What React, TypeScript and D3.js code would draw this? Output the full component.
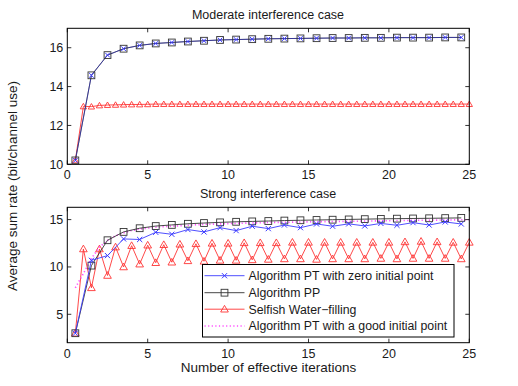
import React from "react";
import * as d3 from "d3";

const W = 518;
const H = 386;

// ---------- data ----------
const xTicks = [0, 5, 10, 15, 20, 25];
const topYTicks = [10, 12, 14, 16];
const botYTicks = [5, 10, 15];

const xHalf = [0.5, 1.5, 2.5, 3.5, 4.5, 5.5, 6.5, 7.5, 8.5, 9.5, 10.5, 11.5, 12.5, 13.5, 14.5, 15.5, 16.5, 17.5, 18.5, 19.5, 20.5, 21.5, 22.5, 23.5, 24.5];
const xStep = [0.5, 1, 1.5, 2, 2.5, 3, 3.5, 4, 4.5, 5, 5.5, 6, 6.5, 7, 7.5, 8, 8.5, 9, 9.5, 10, 10.5, 11, 11.5, 12, 12.5, 13, 13.5, 14, 14.5, 15, 15.5, 16, 16.5, 17, 17.5, 18, 18.5, 19, 19.5, 20, 20.5, 21, 21.5, 22, 22.5, 23, 23.5, 24, 24.5, 25];

// Moderate interference case
const topPP = [10.2, 14.58, 15.62, 15.95, 16.12, 16.22, 16.27, 16.32, 16.36, 16.4, 16.42, 16.44, 16.46, 16.47, 16.48, 16.49, 16.5, 16.5, 16.51, 16.51, 16.52, 16.52, 16.52, 16.53, 16.53];
const topPTzero = [10.2, 14.58, 15.62, 15.95, 16.12, 16.22, 16.27, 16.32, 16.36, 16.4, 16.42, 16.44, 16.46, 16.47, 16.48, 16.49, 16.5, 16.5, 16.51, 16.51, 16.52, 16.52, 16.52, 16.53, 16.53];
const topSelfish = [10.2, 12.98, 12.97, 13.03, 13.05, 13.06, 13.07, 13.08, 13.08, 13.09, 13.1, 13.1, 13.1, 13.1, 13.1, 13.1, 13.1, 13.1, 13.1, 13.1, 13.1, 13.1, 13.1, 13.1, 13.1, 13.1, 13.1, 13.1, 13.1, 13.1, 13.1, 13.1, 13.1, 13.1, 13.1, 13.1, 13.1, 13.1, 13.1, 13.1, 13.1, 13.1, 13.1, 13.1, 13.1, 13.1, 13.1, 13.1, 13.1, 13.1];

// Strong interference case
const botPP = [3.0, 10.14, 12.82, 13.7, 14.09, 14.32, 14.44, 14.56, 14.64, 14.71, 14.77, 14.81, 14.85, 14.9, 14.93, 14.96, 14.99, 15.02, 15.05, 15.08, 15.1, 15.12, 15.14, 15.16, 15.18];
const botPTzero = [3.0, 10.7, 11.2, 12.96, 12.9, 13.66, 13.45, 13.95, 13.7, 14.15, 13.84, 14.3, 14.05, 14.43, 14.15, 14.54, 14.3, 14.55, 14.33, 14.6, 14.4, 14.68, 14.43, 14.75, 14.54];
const botSelfish = [3.0, 11.9, 7.8, 11.9, 9.1, 12.1, 10.0, 12.25, 10.3, 12.3, 10.45, 12.35, 10.5, 12.4, 10.65, 12.45, 10.6, 12.5, 10.7, 12.5, 10.7, 12.55, 10.75, 12.55, 10.8, 12.55, 10.85, 12.6, 10.85, 12.6, 10.8, 12.6, 10.85, 12.6, 10.85, 12.6, 10.85, 12.6, 10.9, 12.6, 10.85, 12.65, 10.9, 12.7, 10.9, 12.65, 10.9, 12.6, 10.85, 12.6];
const botPTgood = [7.8, 9.3, 10.9, 12.1, 12.8, 13.3, 13.6, 13.85, 14.0, 14.1, 14.2, 14.25, 14.3, 14.35, 14.4, 14.45, 14.5, 14.52, 14.55, 14.58, 14.6, 14.62, 14.65, 14.67, 14.7, 14.71, 14.72, 14.73, 14.75, 14.76, 14.78, 14.79, 14.8, 14.81, 14.82, 14.83, 14.85, 14.86, 14.87, 14.88, 14.9, 14.91, 14.92, 14.93, 14.94, 14.95, 14.96, 14.97, 14.98, 14.99];

const legendLabels = [
  "Algorithm PT with zero initial point",
  "Algorithm PP",
  "Selfish Water\u2212filling",
  "Algorithm PT with a good initial point",
];

// ---------- styles ----------
const FONT = "'Liberation Sans', Arial, Helvetica, sans-serif";
const C_BLUE = "#3b3bff";
const C_BLACK = "#333333";
const C_RED = "#ff3434";
const C_MAG = "#ff4dff";
const TXT = "#1a1a1a";

const X0 = 67.3;
const X1 = 469.3;

const xScale = d3.scaleLinear().domain([0, 25]).range([X0, X1]);
const yTop = d3.scaleLinear().domain([10, 17]).range([164.3, 28.3]);
const yBot = d3.scaleLinear().domain([2, 16.3]).range([342.7, 207.3]);

type Scale = d3.ScaleLinear<number, number>;

function pts(xs: number[], ys: number[]): [number, number][] {
  return xs.map((x, i) => [x, ys[i]] as [number, number]);
}

function linePath(data: [number, number][], y: Scale) {
  return d3
    .line<[number, number]>()
    .x((d) => xScale(d[0]))
    .y((d) => y(d[1]))(data) as string;
}

function XMark({ cx, cy, color, s = 2.6 }: { cx: number; cy: number; color: string; s?: number }) {
  return (
    <path
      d={`M${cx - s},${cy - s}L${cx + s},${cy + s}M${cx - s},${cy + s}L${cx + s},${cy - s}`}
      stroke={color}
      strokeWidth={1}
      fill="none"
    />
  );
}
function SqMark({ cx, cy, color, s = 3.4 }: { cx: number; cy: number; color: string; s?: number }) {
  return <rect x={cx - s} y={cy - s} width={2 * s} height={2 * s} fill="none" stroke={color} strokeWidth={0.9} />;
}
function TriMark({ cx, cy, color, s = 3.4 }: { cx: number; cy: number; color: string; s?: number }) {
  const sym = d3.symbol().type(d3.symbolTriangle).size(s * s * 2.2)() as string;
  return <path d={sym} transform={`translate(${cx},${cy + 0.6})`} fill="none" stroke={color} strokeWidth={0.9} />;
}

function Axes({ y, yTicks, top, bottom }: { y: Scale; yTicks: number[]; top: number; bottom: number }) {
  const tl = 4;
  return (
    <g>
      {xTicks.map((t) => (
        <g key={"x" + t}>
          <line x1={xScale(t)} x2={xScale(t)} y1={bottom} y2={bottom - tl} stroke="#000" strokeWidth={0.8} />
          <line x1={xScale(t)} x2={xScale(t)} y1={top} y2={top + tl} stroke="#000" strokeWidth={0.8} />
          <text x={xScale(t)} y={bottom + 15} textAnchor="middle" fontSize={12.5} fontFamily={FONT} fill={TXT}>
            {t}
          </text>
        </g>
      ))}
      {yTicks.map((t) => (
        <g key={"y" + t}>
          <line x1={X0} x2={X0 + tl} y1={y(t)} y2={y(t)} stroke="#000" strokeWidth={0.8} />
          <line x1={X1} x2={X1 - tl} y1={y(t)} y2={y(t)} stroke="#000" strokeWidth={0.8} />
          <text x={X0 - 4} y={y(t) + 4.4} textAnchor="end" fontSize={12.5} fontFamily={FONT} fill={TXT}>
            {t}
          </text>
        </g>
      ))}
      <rect x={X0} y={top} width={X1 - X0} height={bottom - top} fill="none" stroke="#000" strokeWidth={1} />
    </g>
  );
}

export default function App() {
  const topPPd = pts(xHalf, topPP);
  const topPTd = pts(xHalf, topPTzero);
  const topSWd = pts(xStep, topSelfish);
  const botPPd = pts(xHalf, botPP);
  const botPTd = pts(xHalf, botPTzero);
  const botSWd = pts(xStep, botSelfish);
  const botGd = pts(xStep, botPTgood);

  const lx0 = 204.5;
  const lx1 = 244.5;
  const lmid = (lx0 + lx1) / 2;
  const rows = [275.7, 292.7, 309.2, 326];

  return (
    <svg
      width={W}
      height={H}
      style={{ position: "absolute", left: 0, top: 0, background: "#fff" }}
      xmlns="http://www.w3.org/2000/svg"
    >
      <rect x={0} y={0} width={W} height={H} fill="#fff" />

      {/* ---------- top panel ---------- */}
      <text x={268} y={19} textAnchor="middle" fontSize={12.5} fontFamily={FONT} fill={TXT}>
        Moderate interference case
      </text>
      <path d={linePath(topSWd, yTop)} fill="none" stroke={C_RED} strokeWidth={0.9} />
      {topSWd.map((d, i) => (
        <TriMark key={"ts" + i} cx={xScale(d[0])} cy={yTop(d[1])} color={C_RED} s={2.8} />
      ))}
      <path d={linePath(topPPd, yTop)} fill="none" stroke={C_BLACK} strokeWidth={1} />
      <path d={linePath(topPTd, yTop)} fill="none" stroke={C_BLUE} strokeWidth={0.8} strokeOpacity={0.6} />
      {topPPd.map((d, i) => (
        <SqMark key={"tp" + i} cx={xScale(d[0])} cy={yTop(d[1])} color={C_BLACK} />
      ))}
      {topPTd.map((d, i) => (
        <XMark key={"tx" + i} cx={xScale(d[0])} cy={yTop(d[1])} color={C_BLUE} s={2.3} />
      ))}
      <Axes y={yTop} yTicks={topYTicks} top={28.3} bottom={164.3} />

      {/* ---------- bottom panel ---------- */}
      <text x={268} y={198} textAnchor="middle" fontSize={12.5} fontFamily={FONT} fill={TXT}>
        Strong interference case
      </text>
      <path d={linePath(botSWd, yBot)} fill="none" stroke={C_RED} strokeWidth={0.9} />
      {botSWd.map((d, i) => (
        <TriMark key={"bs" + i} cx={xScale(d[0])} cy={yBot(d[1])} color={C_RED} />
      ))}
      <path d={linePath(botGd, yBot)} fill="none" stroke={C_MAG} strokeWidth={1.6} strokeDasharray="1.2,2.4" />
      <path d={linePath(botPPd, yBot)} fill="none" stroke={C_BLACK} strokeWidth={0.9} />
      {botPPd.map((d, i) => (
        <SqMark key={"bp" + i} cx={xScale(d[0])} cy={yBot(d[1])} color={C_BLACK} />
      ))}
      <path d={linePath(botPTd, yBot)} fill="none" stroke={C_BLUE} strokeWidth={0.9} />
      {botPTd.map((d, i) => (
        <XMark key={"bx" + i} cx={xScale(d[0])} cy={yBot(d[1])} color={C_BLUE} />
      ))}
      <Axes y={yBot} yTicks={botYTicks} top={207.3} bottom={342.7} />

      {/* ---------- legend ---------- */}
      <rect x={202.5} y={264.5} width={251.5} height={72.5} fill="#fff" stroke="#000" strokeWidth={1} />
      <line x1={lx0} x2={lx1} y1={rows[0]} y2={rows[0]} stroke={C_BLUE} strokeWidth={0.9} />
      <XMark cx={lmid} cy={rows[0]} color={C_BLUE} />
      <line x1={lx0} x2={lx1} y1={rows[1]} y2={rows[1]} stroke={C_BLACK} strokeWidth={0.9} />
      <SqMark cx={lmid} cy={rows[1]} color={C_BLACK} />
      <line x1={lx0} x2={lx1} y1={rows[2]} y2={rows[2]} stroke={C_RED} strokeWidth={0.9} />
      <TriMark cx={lmid} cy={rows[2]} color={C_RED} />
      <line x1={lx0} x2={lx1} y1={rows[3]} y2={rows[3]} stroke={C_MAG} strokeWidth={1.6} strokeDasharray="1.2,2.4" />
      {legendLabels.map((l, i) => (
        <text key={l} x={248.5} y={rows[i] + 4.4} fontSize={12.3} fontFamily={FONT} fill={TXT}>
          {l}
        </text>
      ))}

      {/* ---------- axis labels ---------- */}
      <text x={268.5} y={372} textAnchor="middle" fontSize={13.5} fontFamily={FONT} fill={TXT}>
        Number of effective iterations
      </text>
      <text
        transform={`translate(17,186) rotate(-90)`}
        textAnchor="middle"
        fontSize={13.5}
        fontFamily={FONT}
        fill={TXT}
      >
        Average sum rate (bit/channel use)
      </text>
    </svg>
  );
}
